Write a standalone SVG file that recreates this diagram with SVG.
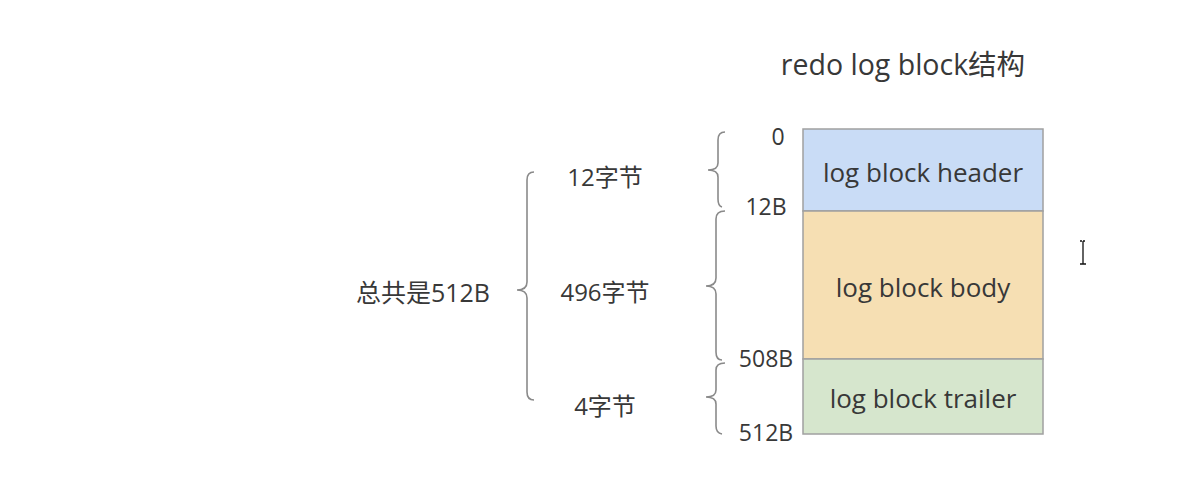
<svg xmlns="http://www.w3.org/2000/svg" width="1189" height="478" viewBox="0 0 1189 478">
<style>
text{font-family:"Open Sans","Noto Sans CJK SC",sans-serif;fill:#383838;dominant-baseline:central}
.lbl{font-size:23px;text-anchor:middle}
.sz{font-size:24px;text-anchor:middle}
.box{font-size:26px;text-anchor:middle}
.blk{stroke:#a0a0a0;stroke-width:1.5}
.brace{fill:none;stroke:#8a8a8a;stroke-width:1.6}
</style>
<rect width="1189" height="478" fill="#fff"/>
<text id="title" x="903" y="64" style="font-size:28.5px;text-anchor:middle">redo log block结构</text>
<g id="header"><rect class="blk" x="803" y="129" width="240" height="82" fill="#c9dcf6"/><text class="box" x="923" y="172">log block header</text></g>
<g id="body"><rect class="blk" x="803" y="211" width="240" height="148" fill="#f6dfb3"/><text class="box" x="923" y="287">log block body</text></g>
<g id="trailer"><rect class="blk" x="803" y="359" width="240" height="75" fill="#d6e6cd"/><text class="box" x="923" y="398">log block trailer</text></g>
<g id="offsets">
<text class="lbl" x="778" y="136">0</text>
<text class="lbl" x="766" y="206">12B</text>
<text class="lbl" x="766" y="358">508B</text>
<text class="lbl" x="766" y="432">512B</text>
</g>
<g id="sizes">
<text class="sz" x="605" y="176">12字节</text>
<text class="sz" x="605" y="291">496字节</text>
<text class="sz" x="605" y="405">4字节</text>
<text class="sz" x="423" y="292" style="font-size:25px">总共是512B</text>
</g>
<g id="connectors">
<path class="brace" d="M534 172 Q527 172 527 180 L527 282 Q527 290 517 290 Q527 290 527 298 L527 392 Q527 400 534 400"/>
<path class="brace" d="M725 132 Q718 132 718 140 L718 163 Q718 170 708 170 Q718 170 718 177 L718 199 Q718 206 722 207"/>
<path class="brace" d="M725 211 Q716 211 716 219 L716 278 Q716 286 706 286 Q716 286 716 294 L716 352 Q716 360 722 360"/>
<path class="brace" d="M725 363 Q716 363 716 370 L716 390 Q716 397 706 397 Q716 397 716 404 L716 426 Q716 433 722 434"/>
</g>
<g id="cursor" stroke="#111" stroke-width="1.3" fill="none">
<path d="M1080 241 h2 M1085 241 h-2 M1083 241 v23 M1080 264 h6"/>
</g>
</svg>
